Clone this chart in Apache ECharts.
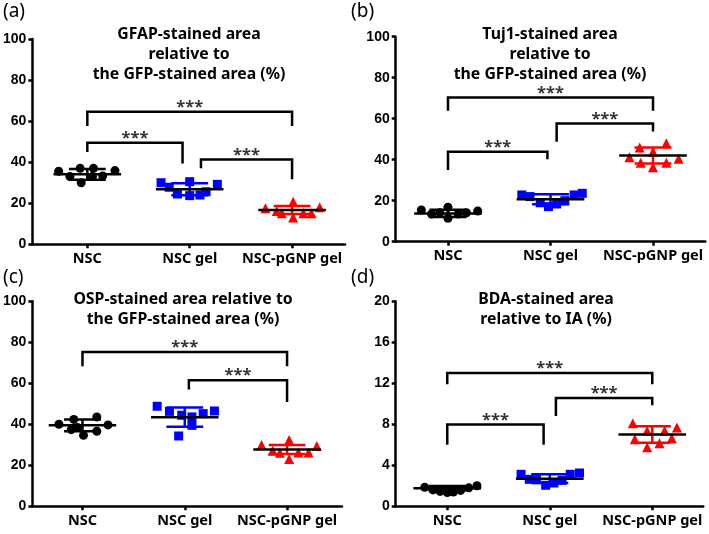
<!DOCTYPE html>
<html><head><meta charset="utf-8">
<script src="https://cdn.jsdelivr.net/npm/echarts@6/dist/echarts.min.js"></script>
<style>html,body{margin:0;padding:0;background:#fff}#c{width:709px;height:534px}</style>
</head><body><div id="c"></div>
<script>
// ---------- data ----------
const categories = ['NSC', 'NSC gel', 'NSC-pGNP gel'];
const groupColors = ['#000000', '#0000ff', '#ff0000'];
const groupSymbols = ['circle', 'rect', 'triangle'];

const panelLabels = ['(a)', '(b)', '(c)', '(d)'];
const panelTitles = [
  'GFAP-stained area\nrelative to\nthe GFP-stained area (%)',
  'Tuj1-stained area\nrelative to\nthe GFP-stained area (%)',
  'OSP-stained area relative to\nthe GFP-stained area (%)',
  'BDA-stained area\nrelative to IA (%)'
];
const yMax = [100, 100, 100, 20];
const yInterval = [20, 20, 20, 4];

// (a) GFAP
const aNSC = [35.6, 33.0, 37.0, 30.0, 37.0, 33.0, 33.3, 35.9];
const aNSCx = [-0.28, -0.17, -0.07, -0.06, 0.06, 0.05, 0.15, 0.27];
const aGel = [30.0, 27.8, 24.5, 30.5, 23.7, 24.0, 25.6, 29.2];
const aGelx = [-0.28, -0.2, -0.12, 0, 0, 0.1, 0.16, 0.27];
const aPG = [17.5, 16.2, 15.1, 20.7, 13.1, 15.1, 15.1, 18.0];
const aPGx = [-0.26, -0.15, -0.1, 0.01, 0.01, 0.11, 0.19, 0.27];
const aMean = [34.1, 26.8, 16.7];
const aSD = [2.6, 2.9, 2.0];
const aBrackets = [[0, 2, 64.6, 57.6, 57.6], [0, 0.93, 49.5, 45.0, 39.4], [1.11, 2, 41.3, 37.0, 31.7]];

// (b) Tuj1
const bNSC = [15.5, 13.5, 14.1, 16.8, 11.4, 13.5, 14.1, 15.0];
const bNSCx = [-0.26, -0.16, -0.08, 0, 0, 0.1, 0.18, 0.29];
const bGel = [22.8, 22.0, 19.0, 17.1, 18.4, 20.0, 22.8, 23.6];
const bGelx = [-0.28, -0.2, -0.1, -0.02, 0.06, 0.14, 0.23, 0.31];
const bPG = [41.2, 46.0, 38.5, 43.9, 36.3, 48.0, 38.5, 40.5];
const bPGx = [-0.23, -0.13, -0.12, 0, 0, 0.13, 0.13, 0.25];
const bMean = [13.8, 20.7, 42.0];
const bSD = [1.8, 2.4, 3.9];
const bBrackets = [[0, 2, 70.3, 63.9, 63.9], [1.06, 2, 57.7, 48.8, 53.7], [0, 0.97, 43.9, 35.0, 40.2]];

// (c) OSP
const cNSC = [40.0, 37.4, 42.4, 34.6, 43.6, 36.6, 39.7, 38.5];
const cNSCx = [-0.23, -0.11, -0.085, 0.01, 0.14, 0.14, 0.25, -0.05];
const cGel = [48.8, 46.3, 34.3, 44.4, 39.5, 43.6, 45.2, 46.5];
const cGelx = [-0.27, -0.15, -0.06, -0.03, 0.07, 0.07, 0.18, 0.29];
const cPG = [29.9, 27.1, 26.1, 32.3, 23.1, 26.3, 26.3, 29.4];
const cPGx = [-0.25, -0.14, -0.07, 0.02, 0.02, 0.11, 0.21, 0.29];
const cMean = [39.5, 43.5, 27.7];
const cSD = [2.9, 4.7, 2.2];
const cBrackets = [[0, 2, 75.3, 68.3, 68.3], [1.04, 2, 61.5, 57.0, 50.9]];

// (d) BDA
const dNSC = [1.85, 1.6, 1.45, 1.35, 1.4, 1.55, 1.8, 2.0];
const dNSCx = [-0.22, -0.14, -0.07, 0.0, 0.06, 0.13, 0.21, 0.29];
const dGel = [3.12, 2.63, 2.6, 2.05, 2.27, 2.53, 3.12, 3.25];
const dGelx = [-0.28, -0.2, -0.13, -0.04, 0.04, 0.12, 0.2, 0.29];
const dPG = [8.1, 6.54, 7.38, 5.75, 6.15, 7.38, 6.63, 7.7];
const dPGx = [-0.19, -0.17, -0.05, -0.05, 0.07, 0.12, 0.19, 0.24];
const dMean = [1.75, 2.7, 7.0];
const dSD = [0.22, 0.42, 0.8];
const dBrackets = [[0, 2, 13.0, 11.9, 11.9], [1.06, 2, 10.57, 8.8, 9.85], [0, 0.94, 7.97, 6.0, 6.0]];

// ---------- layout ----------
const grids = [
  {left: 32, top: 39, width: 313, height: 205.3},
  {left: 395.7, top: 36.7, width: 309.6, height: 205},
  {left: 32.3, top: 301.3, width: 309.7, height: 205},
  {left: 395.7, top: 301.3, width: 307.5, height: 205}
];
const xRanges = [[-0.537, 2.517], [-0.51, 2.51], [-0.49, 2.537], [-0.503, 2.497]];
const titlePos = [[189, 24], [550, 24], [183, 289], [546, 289]];
const labelPos = [[3, 2], [351, 2], [3, 268], [351, 268]];

const panels = [
  {vals: [aNSC, aGel, aPG], offs: [aNSCx, aGelx, aPGx], mean: aMean, sd: aSD, br: aBrackets},
  {vals: [bNSC, bGel, bPG], offs: [bNSCx, bGelx, bPGx], mean: bMean, sd: bSD, br: bBrackets},
  {vals: [cNSC, cGel, cPG], offs: [cNSCx, cGelx, cPGx], mean: cMean, sd: cSD, br: cBrackets},
  {vals: [dNSC, dGel, dPG], offs: [dNSCx, dGelx, dPGx], mean: dMean, sd: dSD, br: dBrackets}
];

const LW = 2.5;
const xAxes = [], yAxes = [], series = [], graphics = [];

function errRender(params, api) {
  const i = api.value(0), m = api.value(1), s = api.value(2);
  const col = groupColors[Math.round(i)];
  const seg = (p, q, c) => ({type: 'line', shape: {x1: p[0], y1: p[1], x2: q[0], y2: q[1]}, style: {stroke: c, lineWidth: LW}});
  return {type: 'group', children: [
    seg(api.coord([i, m + s]), api.coord([i, m - s]), col),
    seg(api.coord([i - 0.18, m + s]), api.coord([i + 0.18, m + s]), col),
    seg(api.coord([i - 0.18, m - s]), api.coord([i + 0.18, m - s]), col),
    seg(api.coord([i - 0.33, m]), api.coord([i + 0.33, m]), '#000')
  ]};
}

panels.forEach((p, k) => {
  xAxes.push({
    gridIndex: k, type: 'value', min: xRanges[k][0], max: xRanges[k][1],
    axisLine: {show: true, onZero: false, lineStyle: {color: '#000', width: LW}},
    axisTick: {show: true, customValues: [0, 1, 2], length: 4, lineStyle: {color: '#000', width: LW}},
    axisLabel: {customValues: [0, 1, 2], formatter: v => categories[Math.round(v)], margin: 7,
      color: '#000', fontWeight: 'bold', fontSize: 14.5, fontFamily: 'Noto Sans'},
    splitLine: {show: false}
  });
  yAxes.push({
    gridIndex: k, type: 'value', min: 0, max: yMax[k], interval: yInterval[k],
    axisLine: {show: true, onZero: false, lineStyle: {color: '#000', width: LW}},
    axisTick: {show: true, length: 4, lineStyle: {color: '#000', width: LW}},
    axisLabel: {margin: 6, color: '#000', fontWeight: 'bold', fontSize: 14, fontFamily: 'Liberation Sans'},
    splitLine: {show: false}
  });
  p.vals.forEach((vs, g) => {
    series.push({
      type: 'scatter', xAxisIndex: k, yAxisIndex: k, silent: true,
      symbol: groupSymbols[g], symbolSize: g === 2 ? 10 : 9,
      itemStyle: {color: groupColors[g], opacity: 1},
      data: vs.map((v, j) => [g + p.offs[g][j], v]), z: 2
    });
  });
  series.push({
    type: 'custom', xAxisIndex: k, yAxisIndex: k, silent: true, z: 3,
    renderItem: errRender,
    data: p.mean.map((m, g) => [g, m, p.sd[g]])
  });
  p.br.forEach(b => {
    series.push({
      type: 'line', xAxisIndex: k, yAxisIndex: k, silent: true, symbol: 'none', z: 4,
      lineStyle: {color: '#000', width: LW, join: 'miter'},
      data: [[b[0], b[3]], [b[0], b[2]], [b[1], b[2]], [b[1], b[4]]]
    });
    series.push({
      type: 'scatter', xAxisIndex: k, yAxisIndex: k, silent: true, symbolSize: 0, z: 5,
      data: [[(b[0] + b[1]) / 2, b[2]]],
      label: {show: true, position: 'top', distance: -4, formatter: '***', color: '#000',
        fontSize: 16.5, fontWeight: 'bold', fontFamily: 'Noto Sans'}
    });
  });
  graphics.push({
    type: 'text', x: titlePos[k][0], y: titlePos[k][1], silent: true,
    style: {text: panelTitles[k], align: 'center', verticalAlign: 'top', fill: '#000',
      fontSize: 15.8, fontWeight: 'bold', fontFamily: 'Noto Sans', lineHeight: 20}
  });
  graphics.push({
    type: 'text', x: labelPos[k][0], y: labelPos[k][1], silent: true,
    style: {text: panelLabels[k], align: 'left', verticalAlign: 'top', fill: '#000',
      fontSize: 19, fontFamily: 'Noto Sans'}
  });
});

const chart = echarts.init(document.getElementById('c'), null, {renderer: 'canvas'});
chart.setOption({
  animation: false,
  grid: grids.map(g => Object.assign({containLabel: false}, g)),
  xAxis: xAxes, yAxis: yAxes, series: series, graphic: graphics
});
</script></body></html>
